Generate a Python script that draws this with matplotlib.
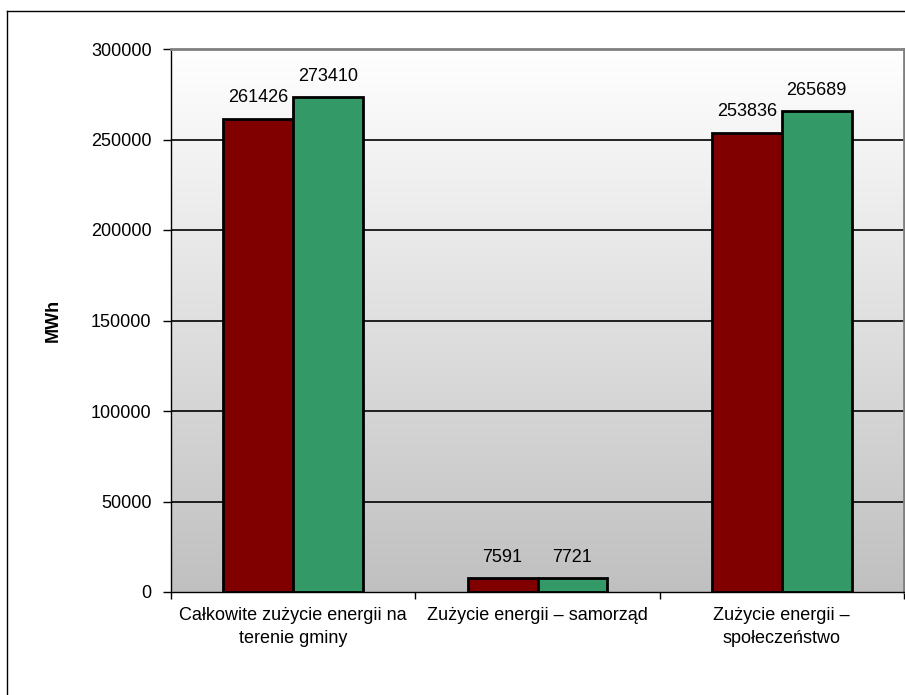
import numpy as np
import matplotlib.pyplot as plt
from matplotlib.lines import Line2D

categories = ['Całkowite zużycie energii na\nterenie gminy',
              'Zużycie energii – samorząd',
              'Zużycie energii –\nspołeczeństwo']
series_a = [261426, 7591, 253836]
series_b = [273410, 7721, 265689]
y_ticks = [0, 50000, 100000, 150000, 200000, 250000, 300000]

plt.rcParams['font.family'] = ['Liberation Sans', 'DejaVu Sans']
fs = 13

fig = plt.figure(figsize=(9.05, 6.95), dpi=100)
ax = fig.add_axes([171 / 905, 103 / 695, 733 / 905, 543 / 695])

# gradient background of the plot area
grad = np.linspace(0, 1, 256).reshape(-1, 1)
ax.imshow(grad, cmap=plt.cm.colors.LinearSegmentedColormap.from_list(
    'bg', ['#ffffff', '#c0c0c0']), aspect='auto',
    extent=[0, 1, 0, 1], transform=ax.transAxes, zorder=0)

x = np.arange(len(categories))
w = 0.2857
bars_a = ax.bar(x - w / 2, series_a, w, color='#800000', edgecolor='black',
                linewidth=2, zorder=3)
bars_b = ax.bar(x + w / 2, series_b, w, color='#339966', edgecolor='black',
                linewidth=2, zorder=3)

for bars in (bars_a, bars_b):
    for b in bars:
        ax.annotate(f'{int(b.get_height())}',
                    (b.get_x() + b.get_width() / 2, b.get_height()),
                    xytext=(0, 9), textcoords='offset points',
                    ha='center', va='bottom', fontsize=fs, zorder=4)

ax.set_xlim(-0.5, 2.5)
ax.set_ylim(0, 300000)
ax.set_yticks(y_ticks)
ax.set_yticklabels([str(t) for t in y_ticks], fontsize=fs)
ax.set_xticks(x)
ax.set_xticklabels(categories, fontsize=fs, linespacing=1.45)
ax.set_xticks([-0.5, 0.5, 1.5, 2.5], minor=True)
ax.tick_params(axis='x', which='major', length=0, pad=11)
ax.tick_params(axis='x', which='minor', length=5, width=1, color='black')
ax.tick_params(axis='y', length=6, width=1, pad=8, color='black')

for t in y_ticks[1:-1]:
    ax.axhline(t, color='black', linewidth=1.2, zorder=1)

ax.spines['left'].set_color('black')
ax.spines['bottom'].set_color('black')
ax.spines['left'].set_linewidth(1)
ax.spines['bottom'].set_linewidth(1)
ax.spines['top'].set_color('#808080')
ax.spines['right'].set_color('#808080')
ax.spines['top'].set_linewidth(2)
ax.spines['right'].set_linewidth(2)

ax.set_ylabel('MWh', fontsize=fs, fontweight='bold')
ax.yaxis.label.set_va('center')
ax.yaxis.set_label_coords(-118 / 733, 0.5)

# outer chart border
fig.add_artist(Line2D([7 / 905, 7 / 905], [0, 1 - 11 / 695],
                      transform=fig.transFigure, color='black', linewidth=1))
fig.add_artist(Line2D([7 / 905, 1], [1 - 11 / 695, 1 - 11 / 695],
                      transform=fig.transFigure, color='black', linewidth=1))

fig.savefig('out.png', dpi=100)
